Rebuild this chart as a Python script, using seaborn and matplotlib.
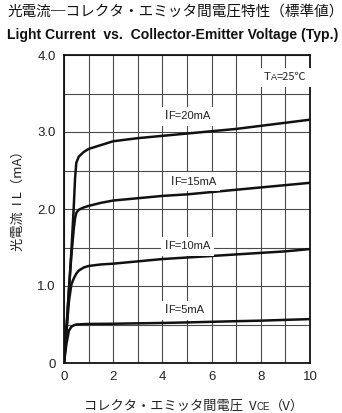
import matplotlib
matplotlib.use("Agg")
import matplotlib.pyplot as plt
import matplotlib.transforms as mtransforms
import numpy as np
import pandas as pd
import seaborn as sns

# Light current vs. collector-emitter voltage, one curve per forward current
vce_20 = [0, 0.1, 0.2, 0.3, 0.4, 0.45, 0.5, 0.6, 0.8, 1.0, 1.5, 2, 3, 4, 5, 6, 7, 8, 9, 10]
il_20 = [0, 0.45, 0.95, 1.45, 2.05, 2.4, 2.6, 2.68, 2.74, 2.78, 2.83, 2.88, 2.92, 2.95, 2.98, 3.01, 3.04, 3.08, 3.12, 3.16]

vce_15 = [0, 0.1, 0.2, 0.3, 0.4, 0.45, 0.5, 0.6, 0.8, 1.0, 1.5, 2, 3, 4, 5, 6, 7, 8, 9, 10]
il_15 = [0, 0.45, 0.95, 1.4, 1.75, 1.88, 1.95, 1.99, 2.02, 2.04, 2.08, 2.11, 2.14, 2.17, 2.19, 2.22, 2.25, 2.28, 2.31, 2.34]

vce_10 = [0, 0.1, 0.2, 0.3, 0.4, 0.45, 0.5, 0.6, 0.8, 1.0, 1.5, 2, 3, 4, 5, 6, 7, 8, 9, 10]
il_10 = [0, 0.4, 0.8, 1.02, 1.1, 1.13, 1.16, 1.2, 1.24, 1.26, 1.28, 1.29, 1.32, 1.35, 1.37, 1.39, 1.41, 1.43, 1.45, 1.48]

vce_5 = [0, 0.1, 0.2, 0.3, 0.4, 0.5, 0.8, 1.0, 2, 3, 4, 5, 6, 7, 8, 9, 10]
il_5 = [0, 0.25, 0.42, 0.47, 0.49, 0.5, 0.505, 0.507, 0.51, 0.515, 0.52, 0.527, 0.535, 0.543, 0.55, 0.56, 0.57]

series_labels = ["20mA", "15mA", "10mA", "5mA"]

x_ticks = [0, 2, 4, 6, 8, 10]
y_ticks = [0, 1.0, 2.0, 3.0, 4.0]
y_tick_labels = ["0", "1.0", "2.0", "3.0", "4.0"]

# IF label anchors: left edge VCE, baseline IL
label_pos = {"20mA": (4.1, 3.165), "15mA": (4.35, 2.315), "10mA": (4.1, 1.475), "5mA": (4.1, 0.645)}

frames = []
for name, v, i in zip(series_labels, [vce_20, vce_15, vce_10, vce_5], [il_20, il_15, il_10, il_5]):
    frames.append(pd.DataFrame({"VCE": v, "IL": i, "IF": name}))
df = pd.concat(frames, ignore_index=True)

sns.set_style("white")
plt.rcParams["font.family"] = ["Liberation Sans", "Noto Sans CJK JP", "DejaVu Sans"]
JP = ["Noto Sans CJK JP", "Liberation Sans", "DejaVu Sans"]
LAT = ["Liberation Sans", "Noto Sans CJK JP", "DejaVu Sans"]
INK = "#222222"

fig = plt.figure(figsize=(3.42, 4.13), dpi=100)
ax = fig.add_axes([64 / 342, 1 - 363 / 413, 246 / 342, 308 / 413])
renderer = fig.canvas.get_renderer()

sns.lineplot(data=df, x="VCE", y="IL", hue="IF", palette=["#111111"] * 4,
             linewidth=1.8, legend=False, sort=False, ax=ax, zorder=3)

ax.set_xlim(0, 10)
ax.set_ylim(0, 4.0)
ax.set_xticks(x_ticks)
ax.set_xticks(np.arange(0, 10.01, 1), minor=True)
ax.set_yticks(y_ticks)
ax.set_yticklabels(y_tick_labels)
ax.set_yticks(np.arange(0, 4.01, 0.5), minor=True)
ax.grid(True, which="both", color="#4a4a4a", linewidth=0.8)
ax.tick_params(which="both", length=0, labelsize=9.5, colors=INK, pad=6)
for s in ax.spines.values():
    s.set_color("#111111")
    s.set_linewidth(1.3)
ax.set_xlabel("")
ax.set_ylabel("")


def chained(target, pieces, x, y, transform, pad=None, zorder=5):
    """Draw text pieces side by side on a shared baseline; each piece is
    (text, size, family). With pad, a white box is laid behind the run."""
    offset = 0.0  # points
    drawn = []
    for s, size, fam in pieces:
        tr = mtransforms.offset_copy(transform, fig=fig, x=offset, y=0, units="points")
        t = target.text(x, y, s, transform=tr, ha="left", va="baseline",
                        fontsize=size, family=fam, color=INK, zorder=zorder)
        w = t.get_window_extent(renderer=renderer).width
        offset += w * 72.0 / fig.dpi
        drawn.append(t)
    if pad is not None:
        boxes = [t.get_window_extent(renderer=renderer) for t in drawn]
        bb = mtransforms.Bbox.union(boxes)
        p = pad * fig.dpi / 72.0
        inv = target.transAxes.inverted()
        (x0, y0), (x1, y1) = inv.transform([(bb.x0 - p, bb.y0 - p), (bb.x1 + p, bb.y1 + p)])
        target.add_patch(plt.Rectangle((x0, y0), x1 - x0, y1 - y0, transform=target.transAxes,
                                       facecolor="white", edgecolor="none", zorder=zorder - 1,
                                       clip_on=False))
    return drawn


for name in series_labels:
    vx, vy = label_pos[name]
    chained(ax, [("I", 9, LAT), ("F=" + name, 8, LAT)], vx, vy, ax.transData, pad=2.5)

chained(ax, [("T", 8, LAT), ("A", 6.5, LAT), ("=25℃", 8, JP)], 8.12, 3.67,
        ax.transData, pad=3.5)

# Titles
fig.text(7 / 342, 1 - 12 / 413, "光電流─コレクタ・エミッタ間電圧特性（標準値）",
         family=JP, fontsize=10.5, va="center", ha="left", color="#111111")
fig.text(7 / 342, 1 - 35 / 413, "Light Current  vs.  Collector-Emitter Voltage (Typ.)",
         family=["Liberation Sans Narrow", "Liberation Sans"], fontweight="bold",
         fontsize=10.1, va="center", ha="left", color="#111111")

# Axis titles
fig.text(18 / 342, 1 - 198 / 413, "光電流  I L（mA）", family=JP, fontsize=9.5,
         rotation=90, va="center", ha="center", color=INK)
chained(fig, [("コレクタ・エミッタ間電圧  V", 9.5, JP), ("CE", 7, LAT), ("（V）", 9.5, JP)],
        84 / 342, 1 - 410 / 413, fig.transFigure)

fig.savefig("out.png", dpi=100)
